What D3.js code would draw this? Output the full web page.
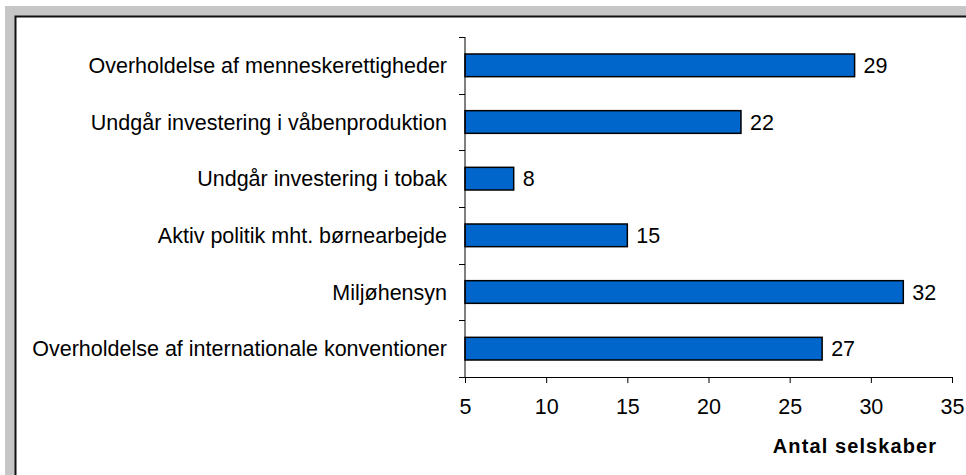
<!DOCTYPE html>
<html>
<head>
<meta charset="utf-8">
<script src="https://cdn.jsdelivr.net/npm/d3@7"></script>
<style>
  html, body { margin: 0; padding: 0; background: #fff; }
  svg { display: block; font-family: "Liberation Sans", Arial, sans-serif; }
</style>
</head>
<body>
<svg id="chart" width="966" height="475"></svg>
<script>
// categories, top to bottom
const categories = [
  "Overholdelse af menneskerettigheder",
  "Undgår investering i våbenproduktion",
  "Undgår investering i tobak",
  "Aktiv politik mht. børnearbejde",
  "Miljøhensyn",
  "Overholdelse af internationale konventioner"
];
const values = [29, 22, 8, 15, 32, 27];
const xTicks = [5, 10, 15, 20, 25, 30, 35];
const xTitle = "Antal selskaber";

const svg = d3.select("#chart");
const width = +svg.attr("width"), height = +svg.attr("height");
const fontSize = "21.5px";

// grey frame + white plot panel
svg.append("rect").attr("x", 5).attr("y", 6).attr("width", width - 5).attr("height", height - 6).attr("fill", "#c6c6c6");
svg.append("rect").attr("x", 15).attr("y", 17).attr("width", width - 15).attr("height", height - 17).attr("fill", "#fff");
svg.append("path")
  .attr("d", `M15.5,${height} V16.5 H${width}`)
  .attr("fill", "none").attr("stroke", "#111").attr("stroke-width", 2);

const margin = { left: 465, right: 14, top: 37, bottom: 98 };
const x = d3.scaleLinear().domain([5, 35]).range([margin.left, width - margin.right]);
const y = d3.scaleBand().domain(categories).range([margin.top, height - margin.bottom]).paddingInner(0.6).paddingOuter(0.3);

// bars
svg.append("g").selectAll("rect")
  .data(categories)
  .join("rect")
  .attr("x", x(5))
  .attr("y", d => y(d))
  .attr("width", (d, i) => x(values[i]) - x(5))
  .attr("height", y.bandwidth())
  .attr("fill", "#0066cc")
  .attr("stroke", "#000")
  .attr("stroke-width", 1.5);

// value labels
svg.append("g").selectAll("text")
  .data(categories)
  .join("text")
  .attr("x", (d, i) => x(values[i]) + 9)
  .attr("y", d => y(d) + y.bandwidth() / 2)
  .attr("dy", "0.36em")
  .style("font-size", fontSize)
  .attr("fill", "#000")
  .text((d, i) => values[i]);

// y axis: line + ticks between categories
const yAxis = svg.append("g");
const y0 = margin.top, y1 = height - margin.bottom;
yAxis.append("line").attr("x1", x(5)).attr("x2", x(5)).attr("y1", y0).attr("y2", y1).attr("stroke", "#000");
d3.range(categories.length + 1).forEach(i => {
  const yy = Math.round(y0 + i * (y1 - y0) / categories.length) + 0.5;
  yAxis.append("line").attr("x1", x(5) - 6).attr("x2", x(5)).attr("y1", yy).attr("y2", yy).attr("stroke", "#000");
});
yAxis.selectAll("text.cat")
  .data(categories)
  .join("text")
  .attr("class", "cat")
  .attr("x", x(5) - 18)
  .attr("y", d => y(d) + y.bandwidth() / 2)
  .attr("dy", "0.36em")
  .attr("text-anchor", "end")
  .style("font-size", fontSize)
  .text(d => d);

// x axis
const xAxis = svg.append("g")
  .attr("transform", `translate(0,${y1})`)
  .call(d3.axisBottom(x).tickValues(xTicks).tickSize(6).tickPadding(16));
xAxis.select(".domain").attr("stroke", "#000");
xAxis.selectAll("line").attr("stroke", "#000");
xAxis.selectAll("text").style("font-size", fontSize).attr("fill", "#000").attr("font-family", "Liberation Sans, Arial, sans-serif");

svg.append("text")
  .attr("x", 855)
  .attr("y", 453)
  .attr("text-anchor", "middle")
  .style("font-size", "20px")
  .style("font-weight", "bold")
  .style("letter-spacing", "1.1px")
  .text(xTitle);
</script>
</body>
</html>
